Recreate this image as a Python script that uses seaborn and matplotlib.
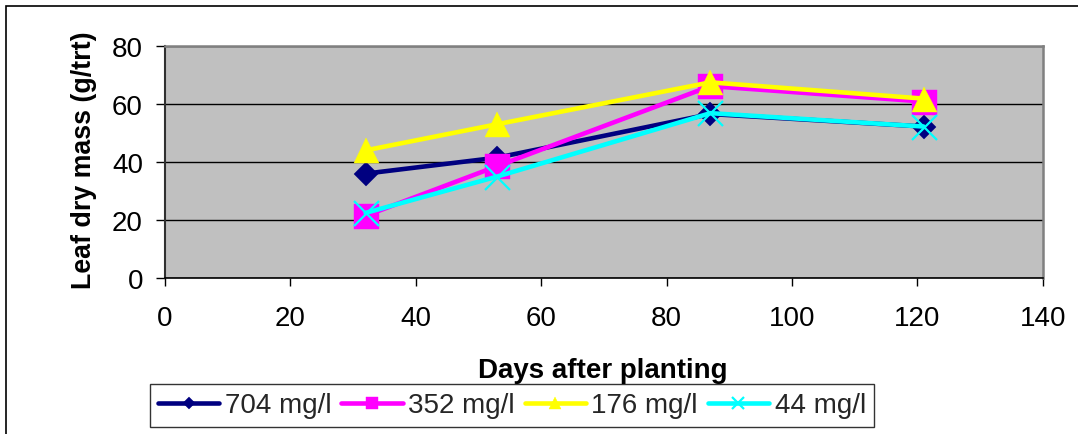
import matplotlib
matplotlib.use("Agg")
import matplotlib.pyplot as plt
import seaborn as sns
import pandas as pd
from matplotlib.patches import Rectangle

days = [32, 53, 87, 121]
s704 = [36, 41.5, 56.5, 52.2]
s352 = [21.5, 38.6, 66.1, 60.8]
s176 = [44, 53, 67.4, 61.8]
s44 = [22.5, 35, 56.8, 52.2]

labels = ["704 mg/l", "352 mg/l", "176 mg/l", "44 mg/l"]
values = [s704, s352, s176, s44]
colors = ["#000080", "#FF00FF", "#FFFF00", "#00FFFF"]
markers = ["D", "s", "^", "x"]
msizes = [12.7, 18, 18, 18]

sns.set_theme(style="white")
plt.rcParams["font.family"] = ["Liberation Sans", "DejaVu Sans"]

W, H = 1078, 435
L, R, T, B = 165, 1042.7, 46.7, 279.3
fig = plt.figure(figsize=(W / 100, H / 100), dpi=100)
ax = fig.add_axes([L / W, 1 - B / H, (R - L) / W, (B - T) / H])
ax.set_facecolor("#C0C0C0")

for lab, vals, c, m, ms in zip(labels, values, colors, markers, msizes):
    df = pd.DataFrame({"day": days, "mass": vals})
    kw = dict(marker=m, markersize=ms, markerfacecolor=c, markeredgecolor=c)
    kw["markeredgewidth"] = 1.6 if m == "x" else 0.3
    sns.lineplot(data=df, x="day", y="mass", ax=ax, color=c, lw=3.3, label=lab,
                 legend=False, **kw)

ax.set_xlim(0, 140)
ax.set_ylim(0, 80)
ax.set_xticks(range(0, 141, 20))
ax.set_yticks(range(0, 81, 20))
ax.yaxis.grid(True, color="black", lw=1)
ax.set_axisbelow(True)
ax.tick_params(axis="both", which="both", direction="out", width=1,
               color="black", labelsize=20, labelcolor="black")
ax.tick_params(axis="x", length=6, pad=13, bottom=True)
ax.tick_params(axis="y", length=6.5, pad=9.4, left=True)
ax.spines["left"].set_color("#303030")
ax.spines["left"].set_linewidth(1.5)
ax.spines["bottom"].set_color("black")
ax.spines["bottom"].set_linewidth(1.2)
for side in ["top", "right"]:
    ax.spines[side].set_color("#808080")
    ax.spines[side].set_linewidth(1.8)

ax.set_xlabel("Days after planting", fontsize=20, fontweight="bold", color="black")
ax.set_ylabel("Leaf dry mass (g/trt)", fontsize=19.3, fontweight="bold", color="black")
ax.xaxis.set_label_coords((603 - L) / (R - L), (B - 371) / (B - T))
ax.xaxis.label.set_va("center")
ax.yaxis.set_label_coords((84 - L) / (R - L), (B - 160) / (B - T))
ax.yaxis.label.set_va("center")

handles, labs = ax.get_legend_handles_labels()
leg = fig.legend(handles, labs, loc="center", bbox_to_anchor=(512 / W, 1 - 406.5 / H),
                 ncol=4, fontsize=20, frameon=True, fancybox=False, edgecolor="black",
                 markerscale=0.45, handlelength=2.2, handletextpad=0.2, columnspacing=0.36,
                 borderpad=0.3, borderaxespad=0)
leg.get_frame().set_linewidth(1)

fig.patches.append(Rectangle((6 / W, -0.05), 1.1, 1 - 7 / H + 0.05, transform=fig.transFigure,
                             fill=False, edgecolor="black", lw=1.2, clip_on=False))

fig.savefig("out.png", dpi=100, facecolor="white")
